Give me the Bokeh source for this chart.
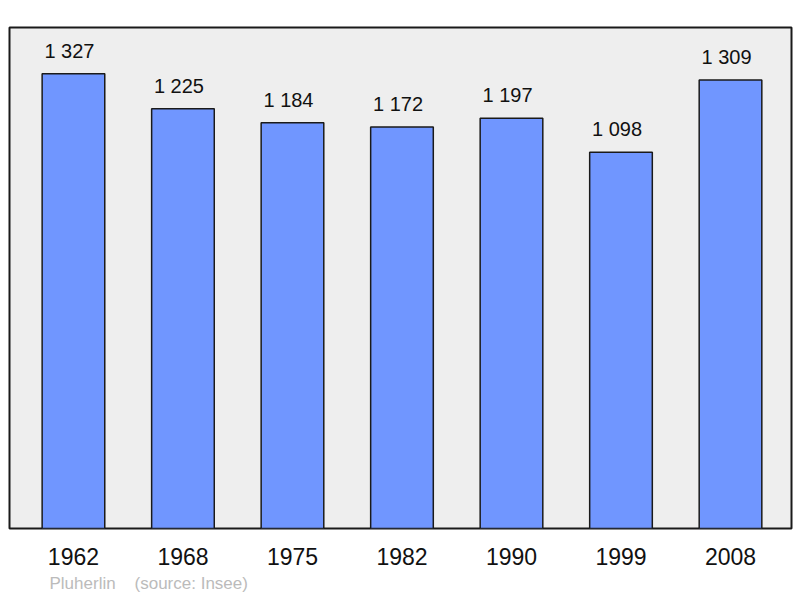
from bokeh.plotting import figure
from bokeh.models import ColumnDataSource, Range1d, FixedTicker, Title
from bokeh.core.properties import value
from bokeh.embed import file_html
from bokeh.resources import INLINE

years = ["1962", "1968", "1975", "1982", "1990", "1999", "2008"]
population = [1327, 1225, 1184, 1172, 1197, 1098, 1309]
value_labels = ["1 327", "1 225", "1 184", "1 172", "1 197", "1 098", "1 309"]
commune = "Pluherlin"
source_note = "(source: Insee)"

idx = list(range(len(years)))
src = ColumnDataSource(dict(x=idx, pop=population, lbl=value_labels))

p = figure(width=800, height=598, output_backend="svg", toolbar_location=None,
           x_range=Range1d(-0.584, 6.557), y_range=Range1d(0, 1462),
           min_border_left=9, min_border_right=9, min_border_top=27, min_border_bottom=70)
p.background_fill_color = "#eeeeee"
p.border_fill_color = "white"
p.outline_line_color = "#1a1a1a"
p.outline_line_width = 2
p.grid.visible = False
p.yaxis.visible = False

p.vbar(x="x", top="pop", bottom=0, width=0.572, source=src,
       fill_color="#7096ff", line_color="#1a1a1a", line_width=1.5)
p.text(x="x", y="pop", text="lbl", source=src, text_align="center",
       text_baseline="middle", x_offset=-4, y_offset=-23, text_font=value("Liberation Sans"),
       text_font_size="20px", text_color="#111111")

ax = p.xaxis[0]
ax.ticker = FixedTicker(ticks=idx)
ax.major_label_overrides = {i: y for i, y in zip(idx, years)}
ax.axis_line_color = None
ax.major_tick_line_color = None
ax.minor_tick_line_color = None
ax.major_tick_out = 0
ax.major_label_standoff = 19
ax.major_label_text_font = "Liberation Sans"
ax.major_label_text_font_size = "23px"
ax.major_label_text_color = "#111111"

footer = Title(text=commune + "\u00a0\u00a0\u00a0 " + source_note, align="left",
               offset=40, standoff=8, text_font="Liberation Sans",
               text_font_size="17px", text_font_style="normal", text_color="#bbbbbb")
p.add_layout(footer, "below")

open("out.html", "w").write(file_html(p, INLINE))
